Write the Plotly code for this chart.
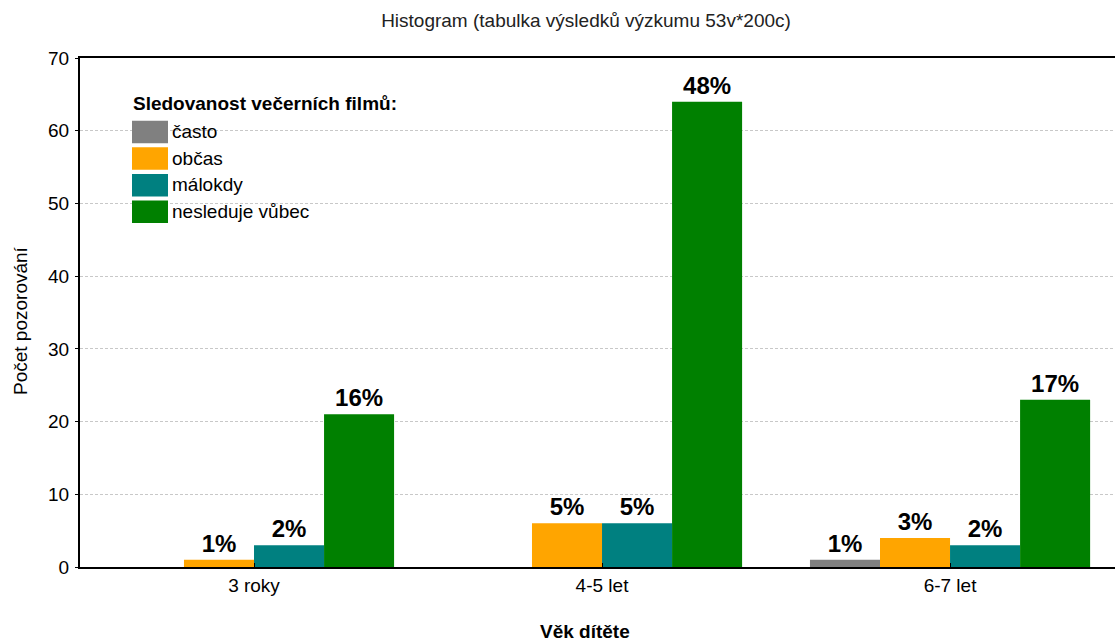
import plotly.graph_objects as go

categories = ["3 roky", "4-5 let", "6-7 let"]
series_names = ["často", "občas", "málokdy", "nesleduje vůbec"]
casto = [0, 0, 1]
obcas = [1, 6, 4]
malokdy = [3, 6, 3]
nesleduje = [21, 64, 23]
casto_lbl = ["", "", "1%"]
obcas_lbl = ["1%", "5%", "3%"]
malokdy_lbl = ["2%", "5%", "2%"]
nesleduje_lbl = ["16%", "48%", "17%"]
colors = ["#808080", "#FFA500", "#008080", "#008000"]
y_ticks = [0, 10, 20, 30, 40, 50, 60, 70]

FONT = "Liberation Sans, Arial, sans-serif"

fig = go.Figure()
for name, vals, lbl, col in zip(series_names, [casto, obcas, malokdy, nesleduje],
                                [casto_lbl, obcas_lbl, malokdy_lbl, nesleduje_lbl], colors):
    fig.add_trace(go.Bar(
        x=categories, y=vals, name=name, marker_color=col, marker_line_width=0,
        text=lbl, textposition="outside", cliponaxis=False,
        textfont=dict(family=FONT, size=24, color="black", weight="bold"),
        showlegend=False, hoverinfo="skip",
    ))

W, H = 1115, 641
L, R, T, B = 80, 0, 58, 74
pw, ph = W - L - R, H - T - B


def px(x):
    return (x - L) / pw


def py(y):
    return (H - B - y) / ph


# manual legend
fig.add_annotation(x=px(131), y=py(103), xref="paper", yref="paper", xanchor="left", yanchor="middle",
                   text="<b>Sledovanost večerních filmů:</b>", showarrow=False,
                   font=dict(family=FONT, size=19, color="black"))
tops = [120.7, 147.3, 174, 200.5]
for name, col, t in zip(series_names, colors, tops):
    fig.add_shape(type="rect", xref="paper", yref="paper",
                  x0=px(132), x1=px(168), y0=py(t), y1=py(t + 22.5),
                  fillcolor=col, line_width=0)
    fig.add_annotation(x=px(170), y=py(t + 11), xref="paper", yref="paper", xanchor="left",
                       yanchor="middle", text=name, showarrow=False,
                       font=dict(family=FONT, size=19, color="black"))

# axis titles
fig.add_annotation(x=px(585), y=py(631), xref="paper", yref="paper", xanchor="center", yanchor="middle",
                   text="<b>Věk dítěte</b>", showarrow=False,
                   font=dict(family=FONT, size=19, color="black"))
fig.add_annotation(x=px(20), y=py(321), xref="paper", yref="paper", xanchor="center", yanchor="middle",
                   text="Počet pozorování", textangle=-90, showarrow=False,
                   font=dict(family=FONT, size=19, color="black"))

fig.update_layout(
    width=W, height=H,
    margin=dict(l=L, r=R, t=T, b=B, pad=0),
    paper_bgcolor="white", plot_bgcolor="white",
    barmode="group", bargap=0.195, bargroupgap=0,
    title=dict(text="Histogram (tabulka výsledků výzkumu 53v*200c)", x=586 / W, xanchor="center",
               y=1 - 20 / H, yanchor="middle",
               font=dict(family=FONT, size=19, color="#222")),
    font=dict(family=FONT, size=19, color="black"),
)
fig.update_xaxes(
    range=[-0.5, 2.474], showline=True, linecolor="black", linewidth=2, mirror=True,
    ticks="inside", ticklen=4, tickcolor="black", tickwidth=1,
    showgrid=False, tickfont=dict(size=19, color="black"),
)
fig.update_yaxes(
    range=[0, 70], tickvals=y_ticks, showline=True, linecolor="black", linewidth=2,
    ticks="outside", ticklen=3, tickcolor="black", tickwidth=1,
    showgrid=True, gridcolor="#c8c8c8", griddash="3px,2px", gridwidth=1,
    zeroline=False, tickfont=dict(size=19, color="black"), ticklabelstandoff=2,
)

fig.write_html("out.html", config={"displayModeBar": False},
               post_script="document.body.style.margin='0';")
